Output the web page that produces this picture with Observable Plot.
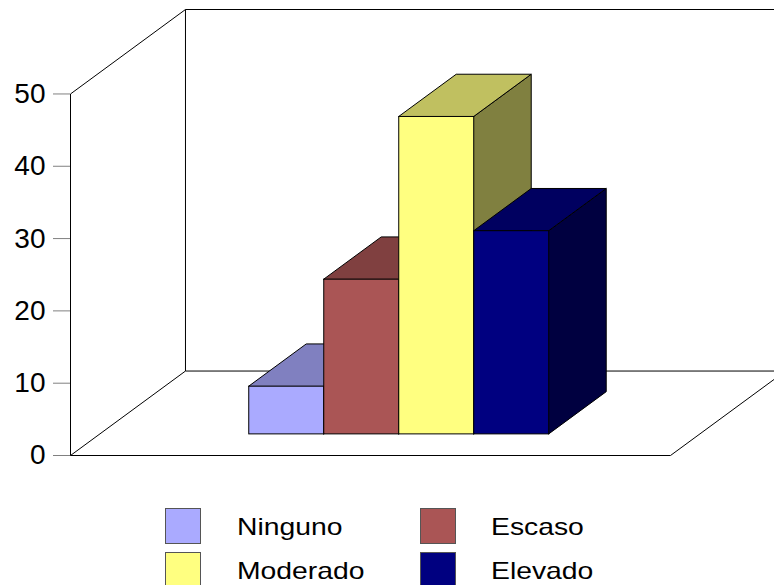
<!DOCTYPE html>
<html>
<head>
<meta charset="utf-8">
<script src="https://cdn.jsdelivr.net/npm/d3@7"></script>
<script src="https://cdn.jsdelivr.net/npm/@observablehq/plot@0.6"></script>
<style>
  body { margin: 0; background: #fff; overflow: hidden; font-family: "Liberation Sans", Arial, sans-serif; }
  #legend { position: relative; width: 774px; height: 115px; }
  .sw { position: absolute; width: 34px; height: 34px; border: 1px solid #555; }
  .lb { position: absolute; font-size: 24px; line-height: 24px; color: #000; white-space: nowrap;
        transform: scaleX(1.18); transform-origin: 0 0; }
</style>
</head>
<body>
<div id="chart"></div>
<div id="legend"></div>
<script>
// Data
const categories = ["Ninguno", "Escaso", "Moderado", "Elevado"];
const values = [6.6, 21.4, 43.9, 28.1];
const yTicks = [0, 10, 20, 30, 40, 50];

// Face shades for each series: front, top, side
const frontColors = ["#AAAAFF", "#AA5555", "#FFFF80", "#000080"];
const topColors   = ["#8080C0", "#804040", "#C0C060", "#000060"];
const sideColors  = ["#606090", "#602828", "#808040", "#000040"];

// Box geometry (x in bar-slot units, y in value units)
const slots = 8;          // floor width in bar slots
const firstSlot = 2;      // first bar starts here
const yMax = 50;
const DX = 1.533;         // horizontal shift of the full depth
const DY = 11.68;         // vertical shift of the full depth
const zFront = 0.25, zBack = 0.75;  // bar depth inside the box

const bars = categories.map((name, i) => ({
  name, value: values[i],
  x0: firstSlot + i, x1: firstSlot + i + 1,
  front: frontColors[i], top: topColors[i], side: sideColors[i]
}));

// Walls and floor edges
const edges = [
  [0, 0, 0, yMax],
  [0, yMax, DX, yMax + DY],
  [0, 0, DX, DY],
  [DX, DY, DX, yMax + DY],
  [DX, yMax + DY, slots + DX, yMax + DY],
  [DX, DY, slots + DX, DY],
  [0, 0, slots, 0],
  [slots, 0, slots + DX, DY],
  [slots + DX, DY, slots + DX, yMax + DY]
].map(([x1, y1, x2, y2]) => ({x1, y1, x2, y2}));

const outline = {stroke: "black", strokeWidth: 1};

const barMarks = bars.flatMap(b => {
  const fx = zFront * DX, bx = zBack * DX, fy = zFront * DY, by = zBack * DY;
  return [
    Plot.areaY([
      {x: b.x1 + fx, y1: fy, y2: b.value + fy},
      {x: b.x1 + bx, y1: by, y2: b.value + by}
    ], {x: "x", y1: "y1", y2: "y2", fill: b.side, ...outline}),
    Plot.areaX([
      {y: b.value + fy, x1: b.x0 + fx, x2: b.x1 + fx},
      {y: b.value + by, x1: b.x0 + bx, x2: b.x1 + bx}
    ], {y: "y", x1: "x1", x2: "x2", fill: b.top, ...outline}),
    Plot.rect([b], {
      x1: d => d.x0 + fx, x2: d => d.x1 + fx,
      y1: fy, y2: d => d.value + fy,
      fill: b.front, ...outline
    })
  ];
});

const chart = Plot.plot({
  width: 774,
  height: 470,
  marginLeft: 70,
  marginRight: 104,
  marginTop: 9,
  marginBottom: 15,
  x: {type: "linear", domain: [0, slots], axis: null},
  y: {type: "linear", domain: [0, yMax + DY], axis: null},
  style: {fontFamily: "'Liberation Sans', Arial, sans-serif", color: "black", background: "white", overflow: "visible"},
  marks: [
    Plot.link(edges, {x1: "x1", y1: "y1", x2: "x2", y2: "y2", ...outline}),
    ...barMarks,
    Plot.axisY(yTicks, {
      anchor: "left", tickSize: 17, tickPadding: 8,
      stroke: "#808080", fill: "black", fontSize: 28, tickFormat: d => String(d)
    })
  ]
});
document.getElementById("chart").appendChild(chart);

// Legend: two columns, two rows
const legend = document.getElementById("legend");
categories.forEach((name, i) => {
  const col = i % 2, row = Math.floor(i / 2);
  const sw = document.createElement("div");
  sw.className = "sw";
  sw.style.left = (165 + col * 255) + "px";
  sw.style.top = (38 + row * 44) + "px";
  sw.style.background = frontColors[i];
  legend.appendChild(sw);
  const lb = document.createElement("span");
  lb.className = "lb";
  lb.textContent = name;
  lb.style.left = (237 + col * 254) + "px";
  lb.style.top = (45 + row * 44) + "px";
  legend.appendChild(lb);
});
</script>
</body>
</html>
